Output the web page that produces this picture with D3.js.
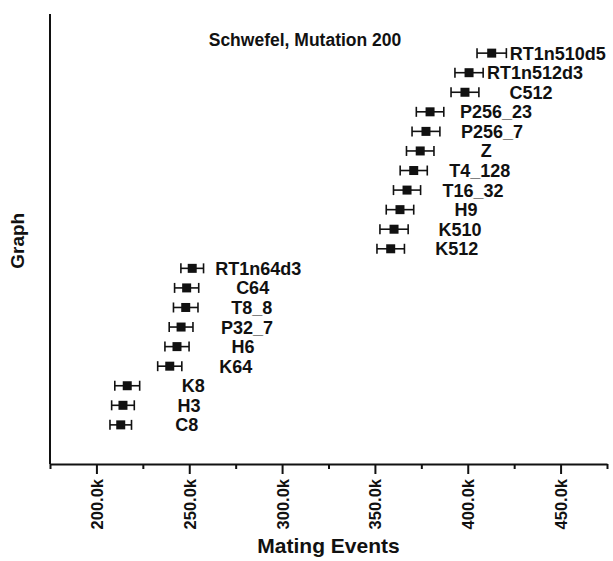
<!DOCTYPE html>
<html>
<head>
<meta charset="utf-8">
<script src="https://cdn.jsdelivr.net/npm/d3@7"></script>
<style>
  body { margin: 0; background: #fff; }
  text { font-family: Arial, "Liberation Sans", sans-serif; font-weight: bold; fill: #111; }
</style>
</head>
<body>
<div id="chart"></div>
<script>
// categories from bottom to top
var categories = ["C8", "H3", "K8", "K64", "H6", "P32_7", "T8_8", "C64", "RT1n64d3",
    "K512", "K510", "H9", "T16_32", "T4_128", "Z", "P256_7", "P256_23", "C512",
    "RT1n512d3", "RT1n510d5"];
// mean mating events (thousands)
var means = [213.1, 214.3, 216.6, 239.5, 243.4, 245.6, 248.1, 248.6, 251.6,
    358.5, 360.3, 363.5, 367.3, 370.9, 374.4, 377.5, 379.7, 398.5, 400.7, 412.9];
// error bar half widths (thousands)
var errors = [5.8, 6.1, 6.7, 6.5, 6.5, 6.4, 6.6, 6.5, 6.1,
    7.4, 7.6, 7.4, 7.3, 7.3, 7.4, 7.5, 7.4, 7.5, 7.6, 7.9];
var majorTicks = [200, 250, 300, 350, 400, 450];
var minorTicks = [175, 225, 275, 325, 375, 425, 475];

var margin = { top: 14, right: 6, bottom: 97, left: 50 };
var width = 613 - margin.left - margin.right;
var height = 561 - margin.top - margin.bottom;

var svg = d3.select("#chart")
    .append("svg")
    .attr("width", 613)
    .attr("height", 561)
    .append("g")
    .attr("transform", "translate(" + margin.left + "," + margin.top + ")");

var x = d3.scaleLinear()
    .domain([175, 475])
    .range([0, width]);

var y = d3.scalePoint()
    .domain(categories)
    .range([height, 0])
    .padding(2);

// x axis: minor ticks then major ticks with labels
var xAxis = svg.append("g")
    .attr("transform", "translate(0," + height + ")");
xAxis.append("g")
    .call(d3.axisBottom(x).tickValues(minorTicks).tickSize(5).tickFormat(""))
    .call(g => g.select(".domain").remove());
xAxis.append("g")
    .call(d3.axisBottom(x).tickValues(majorTicks).tickSize(10).tickSizeOuter(0)
        .tickFormat(d => d.toFixed(1) + "k"));
xAxis.selectAll("line").attr("stroke", "#111").attr("stroke-width", 2);
xAxis.selectAll(".domain").attr("stroke", "#111").attr("stroke-width", 2);
xAxis.selectAll("text")
    .attr("transform", "rotate(-90)")
    .attr("text-anchor", "end")
    .attr("x", -15)
    .attr("y", 0)
    .attr("dy", "0.36em")
    .style("font-size", "16.5px")
    .style("font-family", "Arial, 'Liberation Sans', sans-serif")
    .style("font-weight", "bold")
    .attr("fill", "#111");

// y axis line only
svg.append("line")
    .attr("x1", 0).attr("x2", 0)
    .attr("y1", 0).attr("y2", height)
    .attr("stroke", "#111")
    .attr("stroke-width", 2);

// axis titles
svg.append("text")
    .attr("x", width / 2)
    .attr("y", height + 89)
    .attr("text-anchor", "middle")
    .style("font-size", "21px")
    .text("Mating Events");

svg.append("text")
    .attr("transform", "rotate(-90)")
    .attr("x", -(y("K512") - 8))
    .attr("y", -26)
    .attr("text-anchor", "middle")
    .style("font-size", "19px")
    .text("Graph");

// chart title
svg.append("text")
    .attr("x", 255)
    .attr("y", 32)
    .attr("text-anchor", "middle")
    .style("font-size", "17.5px")
    .text("Schwefel, Mutation 200");

var pts = categories.map((c, i) => ({ name: c, mean: means[i], err: errors[i] }));

var g = svg.append("g")
    .selectAll("g")
    .data(pts)
    .enter()
    .append("g");

// error bars
g.append("line")
    .attr("x1", d => x(d.mean - d.err))
    .attr("x2", d => x(d.mean + d.err))
    .attr("y1", d => y(d.name))
    .attr("y2", d => y(d.name))
    .attr("stroke", "#111")
    .attr("stroke-width", 1.6);
g.append("line")
    .attr("x1", d => x(d.mean - d.err))
    .attr("x2", d => x(d.mean - d.err))
    .attr("y1", d => y(d.name) - 5)
    .attr("y2", d => y(d.name) + 5)
    .attr("stroke", "#111")
    .attr("stroke-width", 1.6);
g.append("line")
    .attr("x1", d => x(d.mean + d.err))
    .attr("x2", d => x(d.mean + d.err))
    .attr("y1", d => y(d.name) - 5)
    .attr("y2", d => y(d.name) + 5)
    .attr("stroke", "#111")
    .attr("stroke-width", 1.6);

// square markers
g.append("rect")
    .attr("x", d => x(d.mean) - 4.5)
    .attr("y", d => y(d.name) - 4.5)
    .attr("width", 9)
    .attr("height", 9)
    .attr("fill", "#111");

// point labels
g.append("text")
    .attr("x", d => x(d.mean) + 66)
    .attr("y", d => y(d.name))
    .attr("dy", "0.36em")
    .attr("text-anchor", "middle")
    .style("font-size", "18px")
    .text(d => d.name);
</script>
</body>
</html>
